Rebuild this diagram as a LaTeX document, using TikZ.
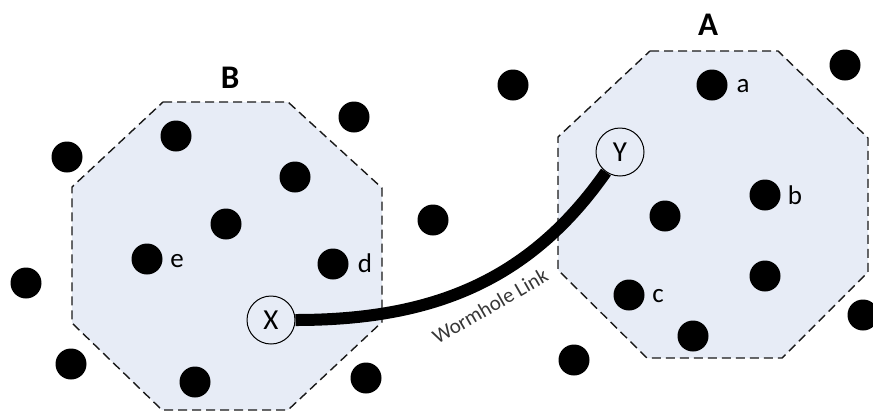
\documentclass[tikz,border=0pt]{standalone}
\usepackage{fontspec}
\setmainfont{Carlito}
\definecolor{regionfill}{RGB}{231,236,246}
\definecolor{linkgray}{RGB}{55,55,55}
\begin{document}
\begin{tikzpicture}[x=1pt,y=-1pt,
  region/.style={fill=regionfill,draw=black!90,line width=1.4pt,dash pattern=on 9pt off 5pt},
  dot/.style={circle,fill=black,minimum size=31pt,inner sep=0pt},
  lbl/.style={font=\fontsize{27}{27}\selectfont,inner sep=0pt},
  title/.style={font=\fontsize{33}{33}\selectfont\bfseries,inner sep=0pt},
  endpoint/.style={circle,draw=black,line width=1pt,minimum size=48pt,inner sep=0pt,font=\fontsize{29}{29}\selectfont},
  link/.style={line width=12pt,black}]
\useasboundingbox (0,0) rectangle (873,413);

% regions
\draw[region] (163,102) -- (288,102) -- (382,188) -- (382,322) -- (288,410)
  -- (162,410) -- (72,323) -- (72,187) -- cycle;
\draw[region] (650,51) -- (778,51) -- (868,138) -- (868,272) -- (782,358)
  -- (647,358) -- (558,270) -- (558,137) -- cycle;

\node[title] (tB) at (230,78) {B};
\node[title] (tA) at (708,25) {A};

% nodes around B
\node[dot] (b1) at (176,136) {};
\node[dot] (b2) at (67,157) {};
\node[dot] (b3) at (354,117) {};
\node[dot] (b4) at (295,177) {};
\node[dot] (b5) at (226,224) {};
\node[dot] (e) at (147,259) {};
\node[dot] (d) at (333,264) {};
\node[dot] (b6) at (26,283) {};
\node[dot] (b7) at (71,364) {};
\node[dot] (b8) at (195,382) {};
\node[dot] (b9) at (366,378) {};
\node[dot] (m1) at (433,220) {};
\node[dot] (m2) at (513,85) {};

% nodes around A
\node[dot] (a) at (712,85) {};
\node[dot] (a1) at (845,65) {};
\node[dot] (b) at (765,195) {};
\node[dot] (a2) at (665,216) {};
\node[dot] (a3) at (765,276) {};
\node[dot] (c) at (629,295) {};
\node[dot] (a4) at (693,336) {};
\node[dot] (a5) at (863,315) {};
\node[dot] (a6) at (574,360) {};

% point labels
\node[lbl] (la) at (743,86) {a};
\node[lbl] (lb) at (795,195) {b};
\node[lbl] (lc) at (658,296) {c};
\node[lbl] (ld) at (365,263) {d};
\node[lbl] (le) at (177,261) {e};

% wormhole endpoints and link
\node[endpoint] (X) at (271,320) {X};
\node[endpoint] (Y) at (620,152) {Y};
\draw[link] (X) to[out=0,in=235] (Y);
\node[font=\fontsize{21}{21}\selectfont,text=linkgray,rotate=30,inner sep=0pt] (wl) at (490,306) {Wormhole Link};
\end{tikzpicture}
\end{document}
